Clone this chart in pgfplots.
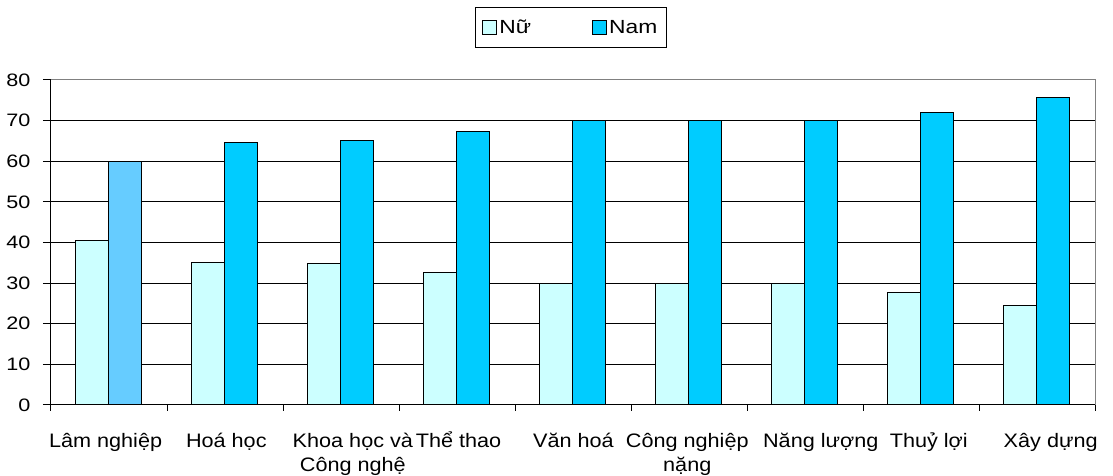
\documentclass[border=0pt]{standalone}
\usepackage{fontspec}
\setmainfont{Liberation Sans}[FakeStretch=1.2]
\newfontfamily\labelfont{Liberation Sans}[FakeStretch=1.11]
\usepackage{pgfplots}
\usepackage{pgfplotstable}
\pgfplotsset{compat=1.18}

\definecolor{nu}{HTML}{CCFFFF}
\definecolor{nam}{HTML}{00CCFF}
\definecolor{namlight}{HTML}{66CCFF}
\definecolor{framegray}{HTML}{808080}

% two-line tick label whose baseline is that of its first line
\newcommand{\twoline}[2]{\begin{tabular}[t]{@{}c@{}}#1\\#2\end{tabular}}

% Ty le (%) nu va nam theo nganh
\pgfplotstableread{
x   nu    nam
0   40.4  60.0
1   35.0  64.7
2   34.9  65.1
3   32.6  67.3
4   30.0  70.0
5   30.0  70.0
6   30.0  70.0
7   27.8  72.0
8   24.6  75.6
}\datatable

\begin{document}
\begin{tikzpicture}
\useasboundingbox (-51pt,-71pt) rectangle (1062pt,405pt);
\begin{axis}[
  at={(0,0)}, anchor=south west,
  scale only axis,
  width=1045pt, height=325pt,
  font=\fontsize{18}{23.5}\selectfont,
  /pgf/number format/assume math mode=true,
  ybar, bar width=33pt,
  xmin=-0.5, xmax=8.5,
  ymin=0, ymax=80,
  ytick={0,10,...,80},
  axis x line*=bottom, axis y line*=left,
  axis line style={-, black, line width=1pt},
  ymajorgrids,
  major grid style={black, line width=1pt},
  tick align=outside,
  major tick length=8pt,
  minor tick length=6pt,
  ytick style={black, line width=1pt},
  % label positions (ticks hidden); category separators drawn as minor ticks
  xtick={-0.03,1.01,2.10,3.01,4.0,4.98,6.13,7.06,8.11},
  xticklabels={Lâm nghiệp, Hoá học, {\twoline{Khoa học và}{Công nghệ}},
    Thể thao, Văn hoá, {\twoline{Công nghiệp}{nặng}},
    Năng lượng, Thuỷ lợi, Xây dựng},
  major x tick style={draw=none},
  minor xtick={-0.5,0.5,...,8.5},
  minor x tick style={black, line width=1pt},
  xticklabel style={anchor=base, yshift=-34.5pt,
    font=\labelfont\fontsize{19.5}{23.5}\selectfont},
  yticklabel style={xshift=-9pt},
  legend columns=2,
  legend style={at={(0.4975,1)}, anchor=center, yshift=52.5pt, draw=black,
    line width=1.2pt, inner xsep=7pt, inner ysep=10.5pt,
    font=\fontsize{19}{21}\selectfont,
    /tikz/every even column/.append style={column sep=59pt}},
  legend image code/.code={\draw[#1, line width=1pt] (0pt,-7pt) rectangle (14pt,7pt);},
]
\addplot[fill=nu, draw=black, line width=1pt, bar shift=-17.5pt] table[x=x, y=nu] {\datatable};
\addlegendentry{Nữ}
\addplot[fill=nam, draw=black, line width=1pt, bar shift=15.5pt] table[x=x, y=nam] {\datatable};
\addlegendentry{Nam}
% first Nam bar in a lighter shade
\addplot[forget plot, fill=namlight, draw=black, line width=1pt, bar shift=15.5pt] coordinates {(0,60.0)};
\draw[framegray, line width=1pt] (rel axis cs:0,1) -- (rel axis cs:1,1) -- (rel axis cs:1,0);
\end{axis}
\end{tikzpicture}
\end{document}
